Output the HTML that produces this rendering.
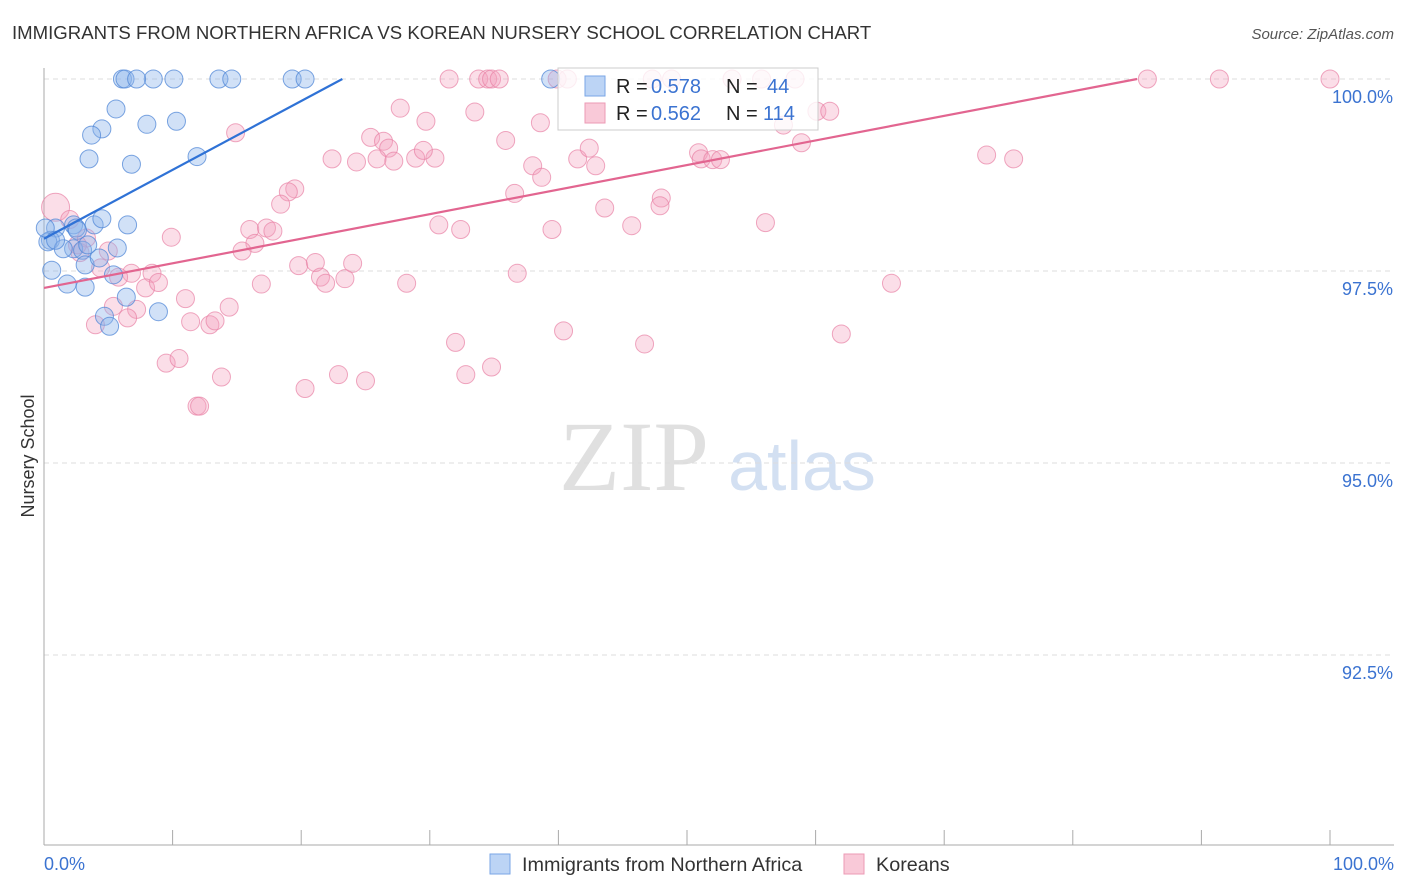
<!DOCTYPE html>
<html><head><meta charset="utf-8"><style>
body{margin:0;background:#fff;width:1406px;height:892px;overflow:hidden;font-family:"Liberation Sans",sans-serif}
</style></head><body>
<svg id="c" width="1406" height="892" style="position:absolute;left:0;top:0">
<text x="12" y="39" font-size="18.6" fill="#333">IMMIGRANTS FROM NORTHERN AFRICA VS KOREAN NURSERY SCHOOL CORRELATION CHART</text>
<text x="1394" y="39" font-size="15" fill="#555" font-style="italic" text-anchor="end">Source: ZipAtlas.com</text>
<text transform="translate(34,456) rotate(-90)" font-size="18" fill="#333" text-anchor="middle">Nursery School</text>
<g><text x="634" y="490" font-size="100" fill="#e0e0e0" font-family="Liberation Serif,serif" text-anchor="middle">ZIP</text><text x="802" y="490" font-size="70" fill="#d3e0f2" text-anchor="middle">atlas</text></g>
<g id="grid"></g><g id="marks"></g>
<g>
<rect x="558" y="68" width="260" height="62" fill="#fff" fill-opacity="0.8" stroke="#ccc"/>
<rect x="585" y="76" width="20" height="20" fill="#bcd4f5" stroke="#7aa6e6"/>
<rect x="585" y="103" width="20" height="20" fill="#f9c9d8" stroke="#ec9ab5"/>
<text x="616" y="93" font-size="20" fill="#222">R =</text><text x="651" y="93" font-size="20" fill="#3b73d1">0.578</text>
<text x="726" y="93" font-size="20" fill="#222">N =</text><text x="767" y="93" font-size="20" fill="#3b73d1">44</text>
<text x="616" y="120" font-size="20" fill="#222">R =</text><text x="651" y="120" font-size="20" fill="#3b73d1">0.562</text>
<text x="726" y="120" font-size="20" fill="#222">N =</text><text x="763" y="120" font-size="20" fill="#3b73d1">114</text>
</g>
<g>
<rect x="490" y="854" width="20" height="20" fill="#bcd4f5" stroke="#7aa6e6"/>
<text x="522" y="871" font-size="19.8" fill="#333">Immigrants from Northern Africa</text>
<rect x="844" y="854" width="20" height="20" fill="#f9c9d8" stroke="#ec9ab5"/>
<text x="876" y="871" font-size="19.8" fill="#333">Koreans</text>
</g>
<text x="44" y="870" font-size="18" fill="#3b73d1">0.0%</text>
<text x="1394" y="870" font-size="18" fill="#3b73d1" text-anchor="end">100.0%</text>
</svg>
<script>
const yTicks=[100,97.5,95,92.5];
const yTickLabels=["100.0%","97.5%","95.0%","92.5%"];
const blueX=[6.1,6.3,8.5,7.2,10.1,13.6,14.6,19.3,20.3,39.4,5.6,8.0,10.3,4.5,3.7,11.9,3.5,6.8,2.3,6.5,3.9,4.5,0.9,0.5,0.3,2.5,2.3,3.0,3.2,5.7,4.3,5.4,0.6,1.8,3.2,6.4,4.7,5.1,8.9,0.1,1.5,0.9,3.4,2.6];
const blueY=[100,100,100,100,100,100,100,100,100,100,99.61,99.41,99.45,99.35,99.27,98.99,98.96,98.89,98.1,98.1,98.1,98.18,98.06,97.9,97.88,98.06,97.79,97.77,97.58,97.8,97.67,97.45,97.51,97.33,97.29,97.16,96.91,96.78,96.97,98.06,97.79,97.9,97.84,98.03];
const pinkX=[39.9,40.7,31.5,33.8,34.5,34.8,35.4,47.3,48.8,53.5,55.8,58.4,85.8,91.4,100,14.9,33.5,27.7,29.7,25.4,26.4,26.8,35.9,38.6,41.5,42.4,42.9,38.0,38.7,36.6,22.4,24.3,25.9,27.2,28.9,30.4,29.5,50.9,51.1,52.0,52.6,58.9,60.1,61.1,57.5,73.3,75.4,19.5,19.0,18.4,43.6,48.0,47.9,30.7,32.4,39.5,45.7,56.1,16.0,17.3,17.8,16.4,15.4,9.9,19.8,21.1,21.5,21.9,23.4,24.0,28.2,36.8,16.9,65.9,8.4,6.8,7.9,8.9,11.0,5.4,5.8,14.4,11.4,7.2,6.5,4.0,12.9,13.3,40.4,46.7,32.0,62.0,9.5,10.5,13.8,20.3,22.9,25.0,32.8,34.8,11.9,12.1,0.9,2.0,3.3,2.8,4.4,5.0,2.6];
const pinkY=[100,100,100,100,100,100,100,100,100,100,100,100,100,100,100,99.3,99.57,99.62,99.45,99.24,99.19,99.1,99.2,99.43,98.96,99.1,98.87,98.87,98.72,98.51,98.96,98.92,98.96,98.93,98.97,98.97,99.07,99.04,98.96,98.95,98.95,99.17,99.58,99.58,99.4,99.01,98.96,98.57,98.53,98.37,98.32,98.45,98.35,98.1,98.04,98.04,98.09,98.13,98.04,98.06,98.02,97.86,97.76,97.94,97.57,97.61,97.42,97.34,97.4,97.6,97.34,97.47,97.33,97.34,97.47,97.47,97.28,97.35,97.14,97.04,97.42,97.03,96.84,97.0,96.89,96.8,96.8,96.85,96.72,96.55,96.57,96.68,96.3,96.36,96.12,95.97,96.15,96.07,96.15,96.25,95.74,95.74,98.33,98.17,97.93,97.74,97.54,97.76,97.84];
const blueTrend=[[0,97.92],[23.2,100]];
const pinkTrend=[[0,97.28],[85,100]];
const X0=44,X1=1330,Y100=79,PX=76.8;
const sx=v=>X0+(X1-X0)*v/100;
const sy=v=>Y100+(100-v)*PX;
const NS="http://www.w3.org/2000/svg";
const grid=document.getElementById('grid'),marks=document.getElementById('marks');
function mk(tag,attrs,parent){const e=document.createElementNS(NS,tag);for(const k in attrs)e.setAttribute(k,attrs[k]);parent.appendChild(e);return e;}
yTicks.forEach((t,i)=>{
 const l=mk('line',{x1:44,x2:1394,y1:sy(t),y2:sy(t),stroke:'#ddd','stroke-dasharray':'5,4'},grid);
 
 
 const tx=mk('text',{x:1393,y:sy(t)+24,'font-size':18,fill:'#3b73d1','text-anchor':'end'},grid);
 tx.textContent=yTickLabels[i];
 
 
});
const ax=mk('line',{x1:44,x2:44,y1:68,y2:845,stroke:'#aaa'},grid);


const bx=mk('line',{x1:44,x2:1394,y1:845,y2:845,stroke:'#aaa'},grid);


for(let i=0;i<=10;i++){const t=mk('line',{x1:sx(i*10),x2:sx(i*10),y1:830,y2:845,stroke:'#aaa'},grid);
 
 }
pinkX.forEach((v,i)=>{const c=mk('circle',{cx:sx(v),cy:sy(pinkY[i]),r:i==102?14:9,fill:'rgba(244,160,188,0.35)',stroke:'rgba(232,130,165,0.7)','stroke-width':1},marks);
 
 });
blueX.forEach((v,i)=>{const c=mk('circle',{cx:sx(v),cy:sy(blueY[i]),r:9,fill:'rgba(140,180,235,0.4)',stroke:'rgba(80,135,215,0.75)','stroke-width':1},marks);
 
 });
const bl=mk('line',{x1:sx(blueTrend[0][0]),y1:sy(blueTrend[0][1]),x2:sx(blueTrend[1][0]),y2:sy(blueTrend[1][1]),stroke:'#2f72d6','stroke-width':2.2},marks);


const pl=mk('line',{x1:sx(pinkTrend[0][0]),y1:sy(pinkTrend[0][1]),x2:sx(pinkTrend[1][0]),y2:sy(pinkTrend[1][1]),stroke:'#e26590','stroke-width':2.2},marks);


</script>
</body></html>
